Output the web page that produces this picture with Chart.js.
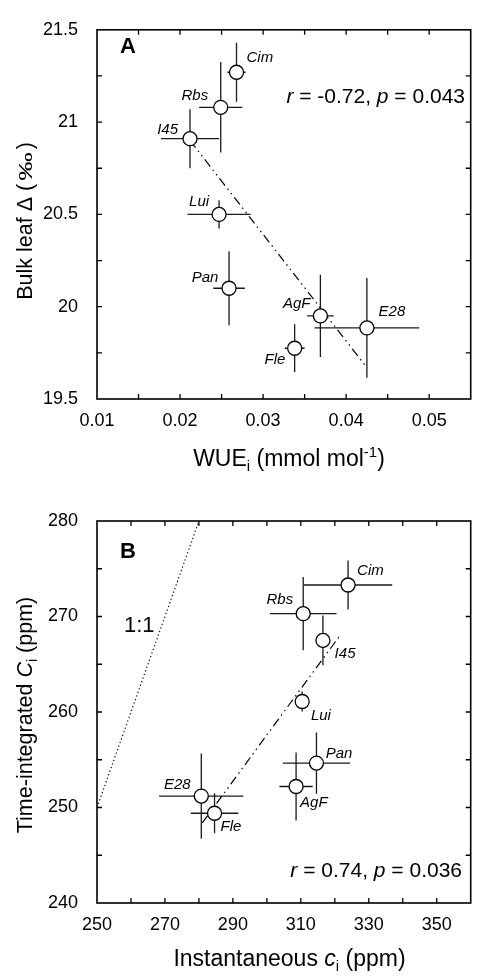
<!DOCTYPE html>
<html><head><meta charset="utf-8">
<script src="https://cdn.jsdelivr.net/npm/chart.js@4.4.1/dist/chart.umd.min.js"></script>
<style>
html,body{margin:0;padding:0;background:#fff;}
#wrap{position:relative;width:479px;height:978px;overflow:hidden;}
.pane{position:absolute;left:0;width:479px;height:489px;}
#pA{top:0}#pB{top:489px}
canvas{display:block}
</style></head><body>
<div id="wrap"><div class="pane" id="pA"><canvas id="cA" width="479" height="489"></canvas></div><div class="pane" id="pB"><canvas id="cB" width="479" height="489"></canvas></div></div>
<script>
const FONT = '"Liberation Sans", Arial, Helvetica, sans-serif';

// ---------- data: panel A ----------
const genotypes = ['Cim','Rbs','I45','Lui','Pan','AgF','E28','Fle'];
const wueA      = [0.0268, 0.0249, 0.0212, 0.0247, 0.0259, 0.0369, 0.0425, 0.0338];
const wueErrA   = [0.0011, 0.0026, 0.0035, 0.0038, 0.0019, 0.0016, 0.0063, 0.0012];
const deltaA    = [21.27, 21.08, 20.91, 20.50, 20.10, 19.95, 19.885, 19.775];
const deltaErrA = [0.16, 0.245, 0.16, 0.076, 0.20, 0.223, 0.27, 0.13];
const fitXA = [0.0212, 0.0425];
const fitYA = [20.90, 19.67];
const xTicksA = [0.01, 0.02, 0.03, 0.04, 0.05];
const xTickLabelsA = ['0.01','0.02','0.03','0.04','0.05'];
const xMinorA = [0.015, 0.025, 0.035, 0.045];
const yTicksA = [19.5, 20, 20.5, 21, 21.5];
const yTickLabelsA = ['19.5','20','20.5','21','21.5'];
const yMinorA = [19.75, 20.25, 20.75, 21.25];

// ---------- data: panel B ----------
const ciInstB    = [323.9, 310.7, 316.5, 310.4, 314.6, 308.6, 280.7, 284.6];
const ciInstErrB = [13.0, 9.8, 1.9, 1.5, 9.9, 4.9, 12.4, 7.0];
const ciTimeB    = [273.3, 270.3, 267.5, 261.1, 254.65, 252.2, 251.2, 249.4];
const ciTimeErrB = [2.56, 3.83, 2.6, 1.05, 3.2, 3.55, 4.46, 2.1];
const fitXB = [281.0, 321.3];
const fitYB = [248.4, 267.9];
const oneX = [250, 280];
const oneY = [250, 280];
const xTicksB = [250, 270, 290, 310, 330, 350];
const xTickLabelsB = ['250','270','290','310','330','350'];
const xMinorB = [260, 280, 300, 320, 340];
const yTicksB = [240, 250, 260, 270, 280];
const yTickLabelsB = ['240','250','260','270','280'];
const yMinorB = [245, 255, 265, 275];

// ---------- helpers ----------
function segFont(s){ return (s.it?'italic ':'') + (s.b?'bold ':'') + s.size + 'px ' + FONT; }
function segW(ctx, s){ ctx.font=segFont(s); return ctx.measureText(s.t).width*(s.sx||1) + (s.gap||0)*2; }
function richWidth(ctx, segs){ let w=0; for(const s of segs){ w+=segW(ctx,s);} return w; }
function drawRich(ctx, segs, x, y, align){
  const w = richWidth(ctx, segs);
  let cx = align==='center' ? x-w/2 : (align==='right' ? x-w : x);
  ctx.textAlign='left'; ctx.textBaseline='alphabetic'; ctx.fillStyle='#000';
  for(const s of segs){
    const sw=segW(ctx,s);
    ctx.font=segFont(s);
    ctx.save(); ctx.translate(cx+(s.gap||0), y+(s.dy||0)); ctx.scale(s.sx||1,1); ctx.fillText(s.t,0,0); ctx.restore();
    cx += sw;
  }
}
function drawRichRot(ctx, segs, x, y){
  ctx.save(); ctx.translate(x,y); ctx.rotate(-Math.PI/2); drawRich(ctx, segs, 0, 0, 'center'); ctx.restore();
}

function makeDecor(p){
  return {
    id:'decor',
    beforeDatasetsDraw(chart){
      const ctx=chart.ctx, xs=chart.scales.x, ys=chart.scales.y;
      ctx.save(); ctx.strokeStyle='#1a1a1a'; ctx.lineWidth=1.3;
      for(let i=0;i<p.x.length;i++){
        const px=xs.getPixelForValue(p.x[i]), py=ys.getPixelForValue(p.y[i]);
        ctx.beginPath();
        ctx.moveTo(xs.getPixelForValue(p.x[i]-p.xe[i]), py); ctx.lineTo(xs.getPixelForValue(p.x[i]+p.xe[i]), py);
        ctx.moveTo(px, ys.getPixelForValue(p.y[i]-p.ye[i])); ctx.lineTo(px, ys.getPixelForValue(p.y[i]+p.ye[i]));
        ctx.stroke();
      }
      ctx.restore();
    },
    afterDraw(chart){
      const ctx=chart.ctx, a=chart.chartArea, xs=chart.scales.x, ys=chart.scales.y;
      ctx.save();
      ctx.strokeStyle='#000'; ctx.lineWidth=1.6;
      ctx.strokeRect(a.left, a.top, a.right-a.left, a.bottom-a.top);
      ctx.lineWidth=1.3;
      const TL=5;
      ctx.beginPath();
      for(const v of p.xTicks.concat(p.xMinor)){
        const px=xs.getPixelForValue(v);
        if(px<=a.left+1||px>=a.right-1) continue;
        ctx.moveTo(px,a.bottom); ctx.lineTo(px,a.bottom-TL);
        ctx.moveTo(px,a.top); ctx.lineTo(px,a.top+TL);
      }
      for(const v of p.yTicks.concat(p.yMinor)){
        const py=ys.getPixelForValue(v);
        if(py<=a.top+1||py>=a.bottom-1) continue;
        ctx.moveTo(a.left,py); ctx.lineTo(a.left+TL,py);
        ctx.moveTo(a.right,py); ctx.lineTo(a.right-TL,py);
      }
      ctx.stroke();
      // point labels
      ctx.fillStyle='#000'; ctx.font='italic 15px '+FONT; ctx.textBaseline='middle';
      for(let i=0;i<p.x.length;i++){
        const o=p.lab[i];
        const px=xs.getPixelForValue(p.x[i]), py=ys.getPixelForValue(p.y[i]);
        ctx.textAlign=o[2];
        ctx.fillText(p.names[i], px+o[0], py+o[1]);
      }
      // texts
      for(const t of p.texts){ drawRich(ctx, t.segs, t.x, t.y, t.align); }
      drawRich(ctx, p.xTitle, p.xTitlePos[0], p.xTitlePos[1], 'center');
      drawRichRot(ctx, p.yTitle, p.yTitlePos[0], p.yTitlePos[1]);
      ctx.restore();
    }
  };
}

function makeChart(canvas, p){
  const W=479, H=489;
  const datasets=[];
  for(const l of p.lines){
    datasets.push({data:l.x.map((v,i)=>({x:v,y:l.y[i]})), showLine:true, pointRadius:0, borderColor:'#000',
      borderWidth:l.w, borderDash:l.dash, fill:false, order:2});
  }
  datasets.push({data:p.x.map((v,i)=>({x:v,y:p.y[i]})), showLine:false, pointRadius:7, pointHoverRadius:7,
    pointBackgroundColor:'#fff', pointBorderColor:'#000', pointBorderWidth:1.3, order:0});
  const tickFont={family:FONT,size:18};
  return new Chart(canvas,{
    type:'scatter',
    data:{datasets},
    options:{
      responsive:false, animation:false, devicePixelRatio:1,
      layout:{padding:{top:p.area.top, right:W-p.area.right, left:0, bottom:0}},
      plugins:{legend:{display:false}, tooltip:{enabled:false}},
      scales:{
        x:{type:'linear', min:p.xMin, max:p.xMax,
          afterBuildTicks:s=>{ s.ticks=p.xTicks.map(v=>({value:v})); },
          afterFit:s=>{ s.height=H-p.area.bottom; },
          ticks:{callback:(v,i)=>p.xLabels[i], font:tickFont, color:'#000', padding:11, maxRotation:0, autoSkip:false},
          grid:{display:false, drawTicks:false}, border:{display:false}},
        y:{type:'linear', min:p.yMin, max:p.yMax,
          afterBuildTicks:s=>{ s.ticks=p.yTicks.map(v=>({value:v})); },
          afterFit:s=>{ s.width=p.area.left; },
          ticks:{callback:(v,i)=>p.yLabels[i], font:tickFont, color:'#000', padding:19, autoSkip:false},
          grid:{display:false, drawTicks:false}, border:{display:false}}
      }
    },
    plugins:[makeDecor(p)]
  });
}

// ---------- panel A ----------
makeChart(document.getElementById('cA'), {
  area:{left:97,right:478,top:18,bottom:399},
  xMin:0.01, xMax:0.055, yMin:19.5, yMax:21.5,
  xTicks:xTicksA, xLabels:xTickLabelsA, xMinor:xMinorA,
  yTicks:yTicksA, yLabels:yTickLabelsA, yMinor:yMinorA,
  x:wueA, xe:wueErrA, y:deltaA, ye:deltaErrA, names:genotypes,
  lab:[[10,-14.6,'left'],[-12.6,-11.7,'right'],[-12,-9,'right'],[-10,-12.7,'right'],[-10.6,-10,'right'],[-10,-12,'right'],[11.7,-15.7,'left'],[-9.3,11.7,'right']],
  lines:[{x:fitXA,y:fitYA,w:1.2,dash:[9,4,1.5,4,1.5,4]}],
  texts:[
    {segs:[{t:'A',size:22,b:true}], x:120, y:53, align:'left'},
    {segs:[{t:'r',size:21,it:true},{t:' = -0.72, ',size:21},{t:'p',size:21,it:true},{t:' = 0.043',size:21}], x:465, y:103, align:'right'}
  ],
  xTitle:[{t:'WUE',size:23},{t:'i',size:15,dy:5},{t:' (mmol mol',size:23},{t:'-1',size:15,dy:-9},{t:')',size:23}],
  xTitlePos:[289,466],
  yTitle:[{t:'Bulk leaf \u0394 (',size:21.5},{t:'\u2030',size:19,sx:1.5,gap:3},{t:')',size:21.5}],
  yTitlePos:[32,221]
});

// ---------- panel B ----------
makeChart(document.getElementById('cB'), {
  area:{left:97,right:478,top:32,bottom:414},
  xMin:250, xMax:360, yMin:240, yMax:280,
  xTicks:xTicksB, xLabels:xTickLabelsB, xMinor:xMinorB,
  yTicks:yTicksB, yLabels:yTickLabelsB, yMinor:yMinorB,
  x:ciInstB, xe:ciInstErrB, y:ciTimeB, ye:ciTimeErrB, names:genotypes,
  lab:[[9,-14.3,'left'],[-10,-14,'right'],[11.7,13.3,'left'],[8.7,14.3,'left'],[9.3,-9.3,'left'],[4,16,'left'],[-10.7,-11.7,'right'],[6,14,'left']],
  lines:[{x:fitXB,y:fitYB,w:1.2,dash:[9,4,1.5,4,1.5,4]},{x:oneX,y:oneY,w:1.2,dash:[1.2,2.6]}],
  texts:[
    {segs:[{t:'B',size:22,b:true}], x:120, y:69, align:'left'},
    {segs:[{t:'1:1',size:22}], x:124, y:143, align:'left'},
    {segs:[{t:'r',size:21,it:true},{t:' = 0.74, ',size:21},{t:'p',size:21,it:true},{t:' = 0.036',size:21}], x:462, y:388, align:'right'}
  ],
  xTitle:[{t:'Instantaneous ',size:23},{t:'c',size:23,it:true},{t:'i',size:15,dy:5},{t:' (ppm)',size:23}],
  xTitlePos:[289.5,477],
  yTitle:[{t:'Time-integrated ',size:21.5},{t:'C',size:21.5,it:true},{t:'i',size:14,dy:5},{t:' (ppm)',size:21.5}],
  yTitlePos:[32,226]
});
</script>
</body></html>
